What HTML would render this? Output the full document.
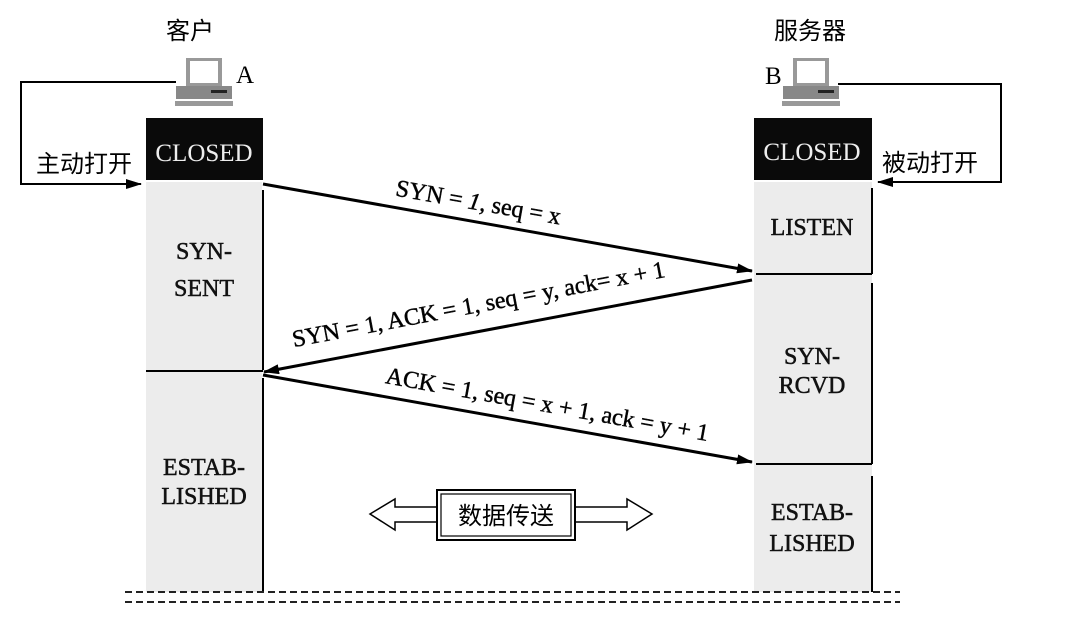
<!DOCTYPE html>
<html><head><meta charset="utf-8"><style>
html,body{margin:0;padding:0;background:#fff;}
svg{display:block;}
text{font-family:"Liberation Serif","Noto Serif CJK SC",serif;}
.cn{font-family:"Liberation Sans","Noto Sans CJK SC",sans-serif;}
.b{stroke:#111;stroke-width:0.5;}
</style></head><body>
<svg width="1088" height="640" viewBox="0 0 1088 640" xmlns="http://www.w3.org/2000/svg">
<defs>
<marker id="ah2" markerWidth="16" markerHeight="10" refX="15" refY="5" orient="auto" markerUnits="userSpaceOnUse">
<path d="M0,0 L16,5 L0,10 Z" fill="#000"/></marker>
</defs>
<rect x="146" y="182" width="116" height="410" fill="#ececec"/>
<rect x="754" y="182" width="118" height="410" fill="#ececec"/>
<rect x="146" y="118" width="117" height="62" fill="#0a0a0a"/>
<rect x="754" y="118" width="118" height="62" fill="#0a0a0a"/>
<text x="204" y="161" font-size="25" fill="#eee" text-anchor="middle">CLOSED</text>
<text x="812" y="160" font-size="25" fill="#eee" text-anchor="middle">CLOSED</text>
<line x1="263" y1="190" x2="263" y2="370" stroke="#000" stroke-width="2"/>
<line x1="146" y1="371" x2="263" y2="371" stroke="#000" stroke-width="2"/>
<line x1="263" y1="378" x2="263" y2="592" stroke="#000" stroke-width="2"/>
<line x1="872" y1="188" x2="872" y2="274" stroke="#000" stroke-width="2"/>
<line x1="756" y1="274" x2="872" y2="274" stroke="#000" stroke-width="2"/>
<line x1="872" y1="283" x2="872" y2="464" stroke="#000" stroke-width="2"/>
<line x1="756" y1="464" x2="872" y2="464" stroke="#000" stroke-width="2"/>
<line x1="872" y1="476" x2="872" y2="592" stroke="#000" stroke-width="2"/>
<g font-size="24" text-anchor="middle" fill="#111" class="b">
<text x="204" y="259">SYN-</text><text x="204" y="296">SENT</text>
<text x="204" y="475">ESTAB-</text><text x="204" y="504">LISHED</text>
<text x="812" y="235">LISTEN</text>
<text x="812" y="364">SYN-</text><text x="812" y="393">RCVD</text>
<text x="812" y="520">ESTAB-</text><text x="812" y="551">LISHED</text>
</g>
<g>
<rect x="186" y="58" width="36" height="28" fill="#999"/><rect x="190" y="61" width="28" height="22" fill="#fff"/>
<rect x="176" y="86" width="56" height="13" fill="#888"/><rect x="211" y="90" width="16" height="3" fill="#222"/>
<rect x="175" y="101" width="58" height="5" fill="#999"/>
<text x="236" y="83" font-size="25">A</text>
<rect x="793" y="58" width="36" height="28" fill="#999"/><rect x="797" y="61" width="28" height="22" fill="#fff"/>
<rect x="783" y="86" width="56" height="13" fill="#888"/><rect x="818" y="90" width="16" height="3" fill="#222"/>
<rect x="782" y="101" width="58" height="5" fill="#999"/>
<text x="765" y="84" font-size="25">B</text>
</g>
<text class="cn" x="190" y="39" font-size="24" text-anchor="middle">客户</text>
<text class="cn" x="810" y="39" font-size="24" text-anchor="middle">服务器</text>
<polyline points="176,82 21,82 21,184 141,184" fill="none" stroke="#000" stroke-width="2" marker-end="url(#ah2)"/>
<text class="cn" x="36" y="172" font-size="24">主动打开</text>
<polyline points="838,84 1001,84 1001,182 878,182" fill="none" stroke="#000" stroke-width="2" marker-end="url(#ah2)"/>
<text class="cn" x="882" y="171" font-size="24">被动打开</text>
<line x1="263" y1="184" x2="752" y2="271" stroke="#000" stroke-width="3" marker-end="url(#ah2)"/>
<line x1="752" y1="280" x2="264" y2="372" stroke="#000" stroke-width="3" marker-end="url(#ah2)"/>
<line x1="263" y1="375" x2="752" y2="462" stroke="#000" stroke-width="3" marker-end="url(#ah2)"/>
<g class="b">
<text font-size="24" text-anchor="middle" transform="translate(477,210) rotate(10)">SYN = <tspan font-style="italic">1</tspan>, seq = x</text>
<text font-size="24" text-anchor="middle" transform="translate(480,312) rotate(-10.7)">SYN = 1, ACK = 1, seq = y, ack= x + 1</text>
<text font-size="24" text-anchor="middle" transform="translate(546,412) rotate(10.2)">ACK = 1, seq = x + 1, ack = y + 1</text>
</g>
<path d="M370,514 L395,499 L395,507 L437,507 L437,522 L395,522 L395,530 Z" fill="#fff" stroke="#000" stroke-width="1.5"/>
<path d="M652,514 L627,499 L627,507 L575,507 L575,522 L627,522 L627,530 Z" fill="#fff" stroke="#000" stroke-width="1.5"/>
<rect x="437" y="490" width="138" height="50" fill="#fff" stroke="#000" stroke-width="2"/>
<rect x="441" y="494" width="130" height="42" fill="#fff" stroke="#000" stroke-width="1.2"/>
<text class="cn" x="506" y="524" font-size="24" text-anchor="middle">数据传送</text>
<line x1="125" y1="592" x2="900" y2="592" stroke="#222" stroke-width="2" stroke-dasharray="7,4"/>
<line x1="125" y1="602" x2="900" y2="602" stroke="#222" stroke-width="2" stroke-dasharray="7,4"/>
</svg>
</body></html>
